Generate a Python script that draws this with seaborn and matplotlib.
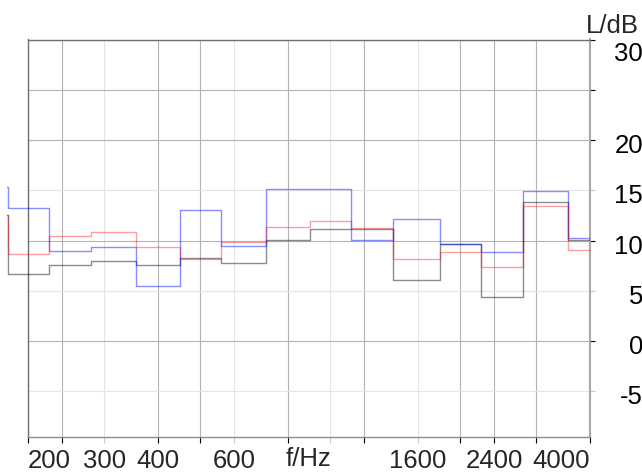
import numpy as np
import pandas as pd
import matplotlib
matplotlib.use("Agg")
import matplotlib.pyplot as plt
import matplotlib.patches as mpatches
import matplotlib.transforms as mtransforms
from matplotlib.ticker import FixedLocator, FixedFormatter
import seaborn as sns

# 1/3-octave bands: centre frequencies (Hz) and nominal band edges (Hz)
band_centres = [160, 200, 250, 315, 400, 500, 630, 800, 1000, 1250, 1600, 2000, 2500, 3150, 4000]
band_edges = [140, 180, 224, 280, 355, 450, 560, 710, 900, 1120, 1400, 1800, 2240, 2800, 3550, 4500]

# band levels L/dB for the three spectra
level_black = [12.5, 6.67, 7.54, 7.94, 7.54, 8.30, 7.74, 10.06, 11.13, 11.13, 6.06, 9.63, 4.38, 13.82, 10.06]
level_blue = [15.32, 13.23, 9.00, 9.40, 5.48, 13.03, 9.44, 15.12, 15.12, 10.05, 12.14, 9.64, 8.84, 14.90, 10.30]
level_red = [12.55, 8.64, 10.49, 10.89, 9.39, 8.14, 9.83, 11.33, 11.95, 11.30, 8.14, 8.83, 7.35, 13.42, 9.03]

series_names = ["black", "blue", "red"]
series_colors = {"black": "#000000", "blue": "#0000ff", "red": "#ff0000"}
series_alpha = {"black": 0.45, "blue": 0.45, "red": 0.38}

# frequency axis ticks
x_major = [200, 240, 400, 500, 800, 1200, 2000, 2400, 3000, 4000]
x_major_labels = ["200", "", "400", "", "", "", "", "2400", "", "4000"]
x_minor = [300, 600, 1000, 1600]
x_minor_labels = ["300", "600", "", "1600"]

# level axis ticks
y_major = [30, 25, 20, 10, 0]
y_minor = [15, 5, -5]
y_labels = [30, 20, 15, 10, 5, 0, -5]

sns.set_style("white")
plt.rcParams["font.family"] = ["Liberation Sans", "DejaVu Sans"]
FS = 18.5

W, H, DPI = 642, 474, 100
fig = plt.figure(figsize=(W / DPI, H / DPI), dpi=DPI)
ax_l, ax_r, ax_t, ax_b = 28, 590, 39.5, 437.3
ax = fig.add_axes([ax_l / W, 1 - ax_b / H, (ax_r - ax_l) / W, (ax_b - ax_t) / H])

# long-form table for the step curves (last level repeated for the closing edge)
levels = {"black": level_black, "blue": level_blue, "red": level_red}
rows = []
for name in series_names:
    vals = levels[name] + [levels[name][-1]]
    for f, v in zip(band_edges, vals):
        rows.append({"f": f, "L": v, "series": name})
df = pd.DataFrame(rows)

ax.set_xscale("log")
sns.lineplot(data=df, x="f", y="L", hue="series", hue_order=series_names,
             palette=series_colors, estimator=None, drawstyle="steps-post",
             linewidth=1.0, legend=False, ax=ax)

ax.set_xlim(200, 4000)
ax.set_ylim(-9.6, 30.03)
ax.set_ylabel("")

# curves are shown from the 180 Hz band edge up to the right frame
clip_rect = mpatches.Rectangle((179, -1), 4000 - 179, 3, transform=ax.get_xaxis_transform())
for line, name in zip(ax.lines, series_names):
    line.set_alpha(series_alpha[name])
    line.set_clip_path(clip_rect)
    line.set_zorder(3)

# x ticks / grid
ax.xaxis.set_major_locator(FixedLocator(x_major))
ax.xaxis.set_major_formatter(FixedFormatter(x_major_labels))
ax.xaxis.set_minor_locator(FixedLocator(x_minor))
ax.xaxis.set_minor_formatter(FixedFormatter(x_minor_labels))

# y ticks / grid (labels on the right)
ax.yaxis.set_major_locator(FixedLocator(y_major))
ax.yaxis.set_minor_locator(FixedLocator(y_minor))
ax.yaxis.set_major_formatter(FixedFormatter([""] * len(y_major)))
ax.yaxis.set_minor_formatter(FixedFormatter([""] * len(y_minor)))

ax.grid(True, which="major", color="#b4b4b4", linewidth=0.8)
ax.grid(True, which="minor", color="#e4e4e4", linewidth=0.8)
ax.set_axisbelow(True)

ax.tick_params(axis="x", which="major", direction="out", length=4.5, width=0.8,
               color="black", labelsize=FS, pad=3.8, bottom=True, top=False)
ax.tick_params(axis="x", which="minor", direction="out", length=4.5, width=0.8,
               color="#c8c8c8", labelsize=FS, pad=3.8, bottom=True, top=False)
ax.tick_params(axis="y", which="major", direction="out", length=3.8, width=0.8,
               color="black", left=False, right=True, labelleft=False, labelright=False)
ax.tick_params(axis="y", which="minor", direction="out", length=3.8, width=0.8,
               color="#c8c8c8", left=False, right=True, labelleft=False, labelright=False)

ticks = ax.xaxis.get_major_ticks()
ticks[0].label1.set_horizontalalignment("left")
ticks[-1].label1.set_horizontalalignment("right")

# frame
ax.spines["top"].set_color("#707070")
ax.spines["left"].set_color("#707070")
ax.spines["bottom"].set_color("#8c8c8c")
ax.spines["right"].set_color("#a8a8a8")
for s in ax.spines.values():
    s.set_linewidth(1.0)
ax.spines["right"].set_linewidth(1.5)

# level labels on the right, right-aligned at the figure edge
ytrans = mtransforms.blended_transform_factory(fig.transFigure, ax.transData)
for v in y_labels:
    dy = -12 if v == max(y_labels) else -3.5
    off = mtransforms.ScaledTranslation(0, dy / DPI, fig.dpi_scale_trans)
    ax.text(643 / W, v, str(v), transform=ytrans + off, ha="right",
            va="center_baseline", fontsize=FS, color="black", clip_on=False)

# axis titles
ax.set_xlabel("f/Hz", fontsize=FS, va="top")
ax.xaxis.set_label_coords(0.5, -(447.5 - ax_b) / (ax_b - ax_t))
fig.text(586 / W, 1 - 14 / H, "L/dB", fontsize=FS, ha="left", va="top")

fig.savefig("out.png", dpi=DPI)
